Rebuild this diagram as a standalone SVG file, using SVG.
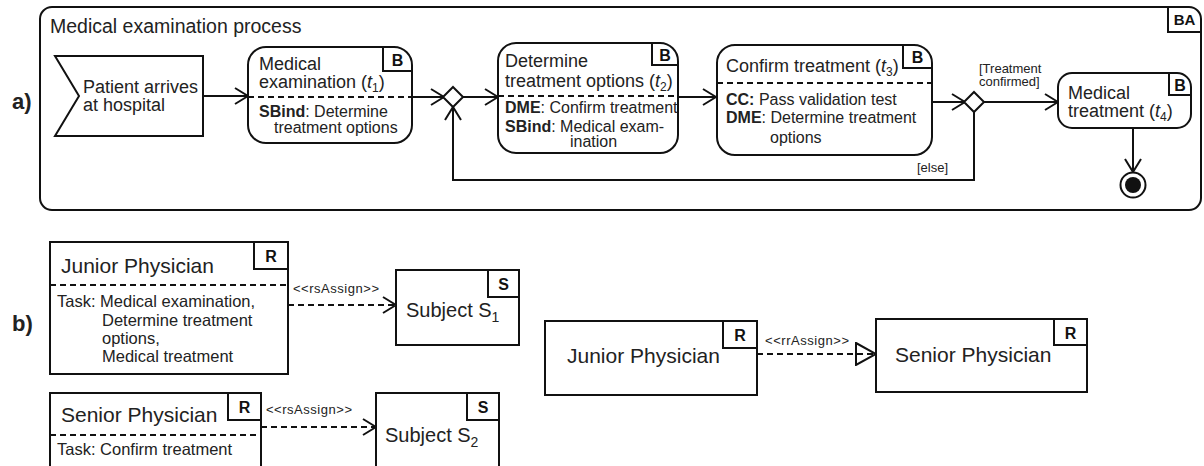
<svg xmlns="http://www.w3.org/2000/svg" width="1204" height="466" viewBox="0 0 1204 466">
<style>
text{font-family:"Liberation Sans",Arial,sans-serif;fill:#222}
.t{font-size:18px}
.b{font-size:16px}
.big{font-size:21px}
.sm{font-size:13px}
.bold{font-weight:bold}
.lbl{font-size:16px;font-weight:bold;fill:#111}
.shape{fill:#fff;stroke:#111;stroke-width:2}
.ln{fill:none;stroke:#111;stroke-width:2}
.dash{fill:none;stroke:#111;stroke-width:2;stroke-dasharray:6 4}
</style>
<defs>
<marker id="open" viewBox="0 0 15 18" refX="14" refY="9" markerWidth="15" markerHeight="18" markerUnits="userSpaceOnUse" orient="auto">
<path d="M1,1 L14,9 L1,17" fill="none" stroke="#111" stroke-width="2"/>
</marker>
<marker id="tri" viewBox="0 0 22 24" refX="21" refY="12" markerWidth="22" markerHeight="24" markerUnits="userSpaceOnUse" orient="auto">
<path d="M1,1 L21,12 L1,23 Z" fill="none" stroke="#111" stroke-width="2"/>
</marker>
</defs>

<g id="frame-ba">
<rect class="ln" x="40" y="7" width="1161" height="203" rx="12"/>
<path class="ln" d="M1168,7 V32 H1201"/>
<text class="lbl" x="1184.5" y="25" text-anchor="middle" style="font-size:15px">BA</text>
<text x="50" y="33" style="font-size:19.5px">Medical examination process</text>
</g>
<text x="12" y="109" class="bold" style="font-size:22px">a)</text>
<text x="12" y="331" class="bold" style="font-size:22px">b)</text>

<g id="connectors">
<line class="ln" x1="203" y1="96" x2="248" y2="96" marker-end="url(#open)"/>
<line class="ln" x1="412" y1="97" x2="444" y2="97" marker-end="url(#open)"/>
<line class="ln" x1="463" y1="97" x2="498" y2="97" marker-end="url(#open)"/>
<line class="ln" x1="678" y1="97" x2="716" y2="97" marker-end="url(#open)"/>
<line class="ln" x1="932" y1="102" x2="965" y2="102" marker-end="url(#open)"/>
<line class="ln" x1="984" y1="102" x2="1058" y2="102" marker-end="url(#open)"/>
<polyline class="ln" points="974,112 974,180 453,180 453,107" marker-end="url(#open)"/>
<line class="ln" x1="1133" y1="128" x2="1133" y2="172" marker-end="url(#open)"/>
<text class="sm" x="979" y="73">[Treatment<tspan x="979" dy="13">confirmed]</tspan></text>
<text class="sm" x="917" y="172">[else]</text>
<line class="dash" x1="288" y1="305" x2="396" y2="305" marker-end="url(#open)"/>
<text class="sm" x="293" y="293" textLength="86">&lt;&lt;rsAssign&gt;&gt;</text>
<line class="dash" x1="261" y1="427" x2="376" y2="427" marker-end="url(#open)"/>
<text class="sm" x="266" y="414" textLength="86">&lt;&lt;rsAssign&gt;&gt;</text>
<line class="dash" x1="757" y1="354" x2="876" y2="354" marker-end="url(#tri)"/>
<text class="sm" x="765" y="345" textLength="84">&lt;&lt;rrAssign&gt;&gt;</text>
</g>

<g id="patient-arrives">
<polygon class="shape" points="55,56 203,56 203,136 55,136 79,96"/>
<text class="t" x="83" y="93">Patient arrives</text>
<text class="t" x="83" y="111">at hospital</text>
</g>

<g id="t1">
<rect class="shape" x="248" y="47" width="164" height="96" rx="18"/>
<path class="ln" d="M383,47 V71 H412"/>
<text class="lbl" x="397.5" y="66" text-anchor="middle">B</text>
<line class="dash" x1="248" y1="97" x2="412" y2="97"/>
<text class="t" x="259" y="70">Medical</text>
<text class="t" x="259" y="88">examination (<tspan font-style="italic">t</tspan><tspan font-size="12" dy="4">1</tspan><tspan dy="-4">)</tspan></text>
<text class="b" x="259" y="117"><tspan class="bold">SBind</tspan>: Determine</text>
<text class="b" x="274" y="133">treatment options</text>
</g>

<g id="decision1">
<polygon class="shape" points="453,87 463,97 453,107 443,97"/>
</g>

<g id="t2">
<rect class="shape" x="498" y="43" width="180" height="110" rx="18"/>
<path class="ln" d="M652,43 V65 H678"/>
<text class="lbl" x="665" y="61" text-anchor="middle">B</text>
<line class="dash" x1="498" y1="96" x2="678" y2="96"/>
<text class="t" x="505" y="67">Determine</text>
<text class="t" x="505" y="87">treatment options (<tspan font-style="italic">t</tspan><tspan font-size="12" dy="4">2</tspan><tspan dy="-4">)</tspan></text>
<text class="b" x="505" y="113"><tspan class="bold">DME</tspan>: Confirm treatment</text>
<text class="b" x="505" y="132"><tspan class="bold">SBind</tspan>: Medical exam-</text>
<text class="b" x="570" y="147">ination</text>
</g>

<g id="t3">
<rect class="shape" x="717" y="45" width="215" height="110" rx="18"/>
<path class="ln" d="M903,45 V68 H932"/>
<text class="lbl" x="917.5" y="63" text-anchor="middle">B</text>
<line class="dash" x1="717" y1="83" x2="932" y2="83"/>
<text class="t" x="726" y="72">Confirm treatment (<tspan font-style="italic">t</tspan><tspan font-size="12" dy="4">3</tspan><tspan dy="-4">)</tspan></text>
<text class="b" x="726" y="105"><tspan class="bold">CC:</tspan> Pass validation test</text>
<text class="b" x="726" y="123"><tspan class="bold">DME</tspan>: Determine treatment</text>
<text class="b" x="770" y="143">options</text>
</g>

<g id="decision2">
<polygon class="shape" points="974,92 984,102 974,112 964,102"/>
</g>

<g id="t4">
<rect class="shape" x="1058" y="73" width="133" height="55" rx="14"/>
<path class="ln" d="M1169,73 V95 H1191"/>
<text class="lbl" x="1180" y="91" text-anchor="middle">B</text>
<text class="t" x="1068" y="99">Medical</text>
<text class="t" x="1068" y="117">treatment (<tspan font-style="italic">t</tspan><tspan font-size="12" dy="4">4</tspan><tspan dy="-4">)</tspan></text>
</g>

<g id="final">
<circle cx="1133" cy="185" r="12.5" fill="#fff" stroke="#111" stroke-width="2"/>
<circle cx="1133" cy="185" r="8" fill="#111"/>
</g>

<g id="junior-physician-1">
<rect class="shape" x="50" y="242" width="238" height="132"/>
<rect class="shape" x="254" y="242" width="34" height="27"/>
<text class="lbl" x="271" y="262" text-anchor="middle">R</text>
<line class="dash" x1="50" y1="285" x2="288" y2="285"/>
<text class="big" x="61" y="273">Junior Physician</text>
<text x="57" y="307" style="font-size:16.5px">Task: Medical examination,</text>
<text x="102" y="326" style="font-size:16.5px">Determine treatment</text>
<text x="102" y="344" style="font-size:16.5px">options,</text>
<text x="102" y="362" style="font-size:16.5px">Medical treatment</text>
</g>

<g id="subject-s1">
<rect class="shape" x="396" y="270" width="123" height="75"/>
<rect class="shape" x="488" y="270" width="31" height="27"/>
<text class="lbl" x="503.5" y="290" text-anchor="middle">S</text>
<text x="406" y="317" style="font-size:20px">Subject S<tspan font-size="14" dy="5">1</tspan></text>
</g>

<g id="senior-physician-1">
<rect class="shape" x="50" y="393" width="211" height="90"/>
<rect class="shape" x="228" y="393" width="33" height="27"/>
<text class="lbl" x="244.5" y="413" text-anchor="middle">R</text>
<line class="dash" x1="50" y1="435" x2="261" y2="435"/>
<text class="big" x="61" y="422">Senior Physician</text>
<text x="57" y="455" style="font-size:16.5px">Task: Confirm treatment</text>
</g>

<g id="subject-s2">
<rect class="shape" x="376" y="393" width="123" height="90"/>
<rect class="shape" x="467" y="393" width="32" height="27"/>
<text class="lbl" x="483" y="413" text-anchor="middle">S</text>
<text x="385" y="442" style="font-size:20px">Subject S<tspan font-size="14" dy="5">2</tspan></text>
</g>

<g id="junior-physician-2">
<rect class="shape" x="545" y="321" width="212" height="74"/>
<rect class="shape" x="723" y="321" width="34" height="27"/>
<text class="lbl" x="740" y="341" text-anchor="middle">R</text>
<text class="big" x="567" y="363">Junior Physician</text>
</g>

<g id="senior-physician-2">
<rect class="shape" x="876" y="319" width="211" height="73"/>
<rect class="shape" x="1054" y="319" width="33" height="26"/>
<text class="lbl" x="1070.5" y="339" text-anchor="middle">R</text>
<text class="big" x="895" y="362">Senior Physician</text>
</g>
</svg>
